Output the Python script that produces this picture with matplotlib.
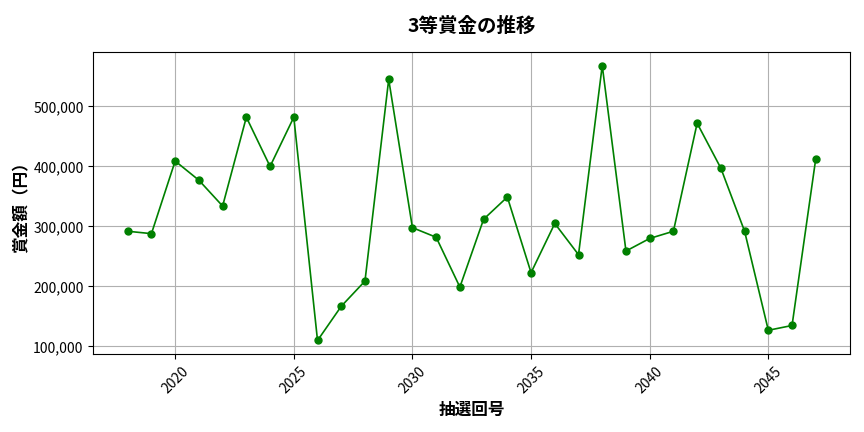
import matplotlib
matplotlib.use("Agg")
import matplotlib.pyplot as plt
from matplotlib.ticker import FuncFormatter

plt.rcParams['font.family'] = ['Noto Sans CJK JP', 'DejaVu Sans']

draws = list(range(2018, 2048))
prizes = [292000, 288000, 409000, 377000, 334000, 482000, 400000, 482000,
          110000, 167000, 209000, 545000, 298000, 282000, 199000, 312000,
          349000, 223000, 305000, 253000, 568000, 259000, 280000, 292000,
          472000, 397000, 292000, 127000, 135000, 413000]

fig, ax = plt.subplots(figsize=(8.64, 4.32), dpi=100)

ax.plot(draws, prizes, color="green", marker="o", markersize=5, linewidth=1.2)

ax.set_title("3等賞金の推移", fontsize=14, fontweight="bold", pad=14)
ax.set_xlabel("抽選回号", fontsize=12, fontweight="bold", labelpad=4)
ax.set_ylabel("賞金額（円）", fontsize=12, fontweight="bold", labelpad=2)
ax.yaxis.set_major_formatter(FuncFormatter(lambda v, p: f"{int(v):,}"))
plt.setp(ax.get_xticklabels(), rotation=45)
ax.grid(True, color="#b0b0b0", linewidth=0.8)

plt.subplots_adjust(left=0.108, right=0.984, top=0.88, bottom=0.18)
plt.savefig("out.png")
